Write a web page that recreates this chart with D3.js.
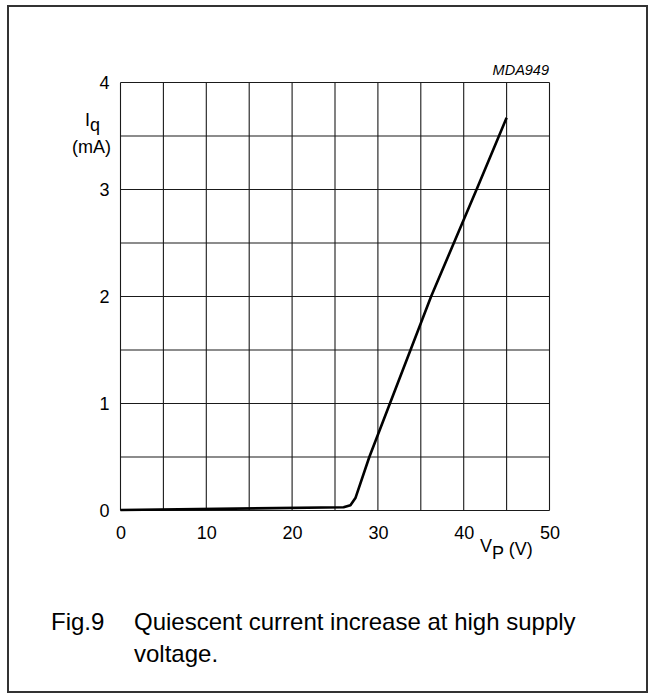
<!DOCTYPE html>
<html><head><meta charset="utf-8">
<script src="https://cdn.jsdelivr.net/npm/d3@7"></script>
<style>body{margin:0;background:#fff}svg{display:block}text{font-family:"Liberation Sans",Arial,sans-serif;fill:#000}</style>
</head><body>
<script>
const vp = [0, 26, 26.8, 27.4, 29, 31.4, 36.2, 41.5, 45];
const iq = [0.005, 0.03, 0.05, 0.12, 0.5, 1, 2, 3, 3.67];
const xTicks = [0, 10, 20, 30, 40, 50];
const yTicks = [0, 1, 2, 3, 4];

const W = 655, H = 700;
const FONT = '"Liberation Sans",Arial,sans-serif';
const svg = d3.select("body").append("svg").attr("width", W).attr("height", H);
svg.append("rect").attr("x", 8).attr("y", 6).attr("width", 639).attr("height", 686)
  .attr("fill", "none").attr("stroke", "#333").attr("stroke-width", 2);

const x = d3.scaleLinear().domain([0, 50]).range([120.5, 549.5]);
const y = d3.scaleLinear().domain([0, 4]).range([510.5, 82.5]);

const g = svg.append("g");
d3.range(0, 50.01, 5).forEach(v => g.append("line").attr("x1", x(v)).attr("x2", x(v))
  .attr("y1", y(0)).attr("y2", y(4)).attr("stroke", "#1a1a1a").attr("stroke-width", 1.1));
d3.range(0, 4.01, 0.5).forEach(v => g.append("line").attr("x1", x(0)).attr("x2", x(50))
  .attr("y1", y(v)).attr("y2", y(v)).attr("stroke", "#1a1a1a").attr("stroke-width", 1.1));

const xAxis = d3.axisBottom(x).tickValues(xTicks).tickFormat(d3.format("d")).tickSize(0).tickPadding(16);
const ax = svg.append("g").attr("transform", `translate(0,${y(0)})`).call(xAxis);
ax.select(".domain").remove();
ax.selectAll("text").attr("font-size", 18).style("font-family", FONT).attr("fill", "#000");

const yAxis = d3.axisLeft(y).tickValues(yTicks).tickFormat(d3.format("d")).tickSize(0).tickPadding(11);
const ay = svg.append("g").attr("transform", `translate(${x(0)},0)`).call(yAxis);
ay.select(".domain").remove();
ay.selectAll("text").attr("font-size", 18).style("font-family", FONT).attr("fill", "#000");

const line = d3.line().x((d, i) => x(vp[i])).y(d => y(d));
svg.append("path").datum(iq).attr("d", line).attr("fill", "none")
  .attr("stroke", "#000").attr("stroke-width", 2.6).attr("stroke-linejoin", "round");

// axis labels
const yl = svg.append("text").attr("x", 85).attr("y", 126).attr("font-size", 18);
yl.append("tspan").text("I");
yl.append("tspan").attr("dy", 5).text("q");
svg.append("text").attr("x", 72).attr("y", 153).attr("font-size", 18).text("(mA)");

const xl = svg.append("text").attr("x", 480).attr("y", 552).attr("font-size", 18);
xl.append("tspan").text("V");
xl.append("tspan").attr("dy", 7).text("P");
xl.append("tspan").attr("dy", -4).text(" (V)");

svg.append("text").attr("x", 549).attr("y", 75).attr("text-anchor", "end")
  .attr("font-size", 14.5).attr("font-style", "italic").text("MDA949");

svg.append("text").attr("x", 51).attr("y", 630).attr("font-size", 24).text("Fig.9");
svg.append("text").attr("x", 134).attr("y", 630).attr("font-size", 24).text("Quiescent current increase at high supply");
svg.append("text").attr("x", 134).attr("y", 662).attr("font-size", 24).text("voltage.");
</script>
</body></html>
